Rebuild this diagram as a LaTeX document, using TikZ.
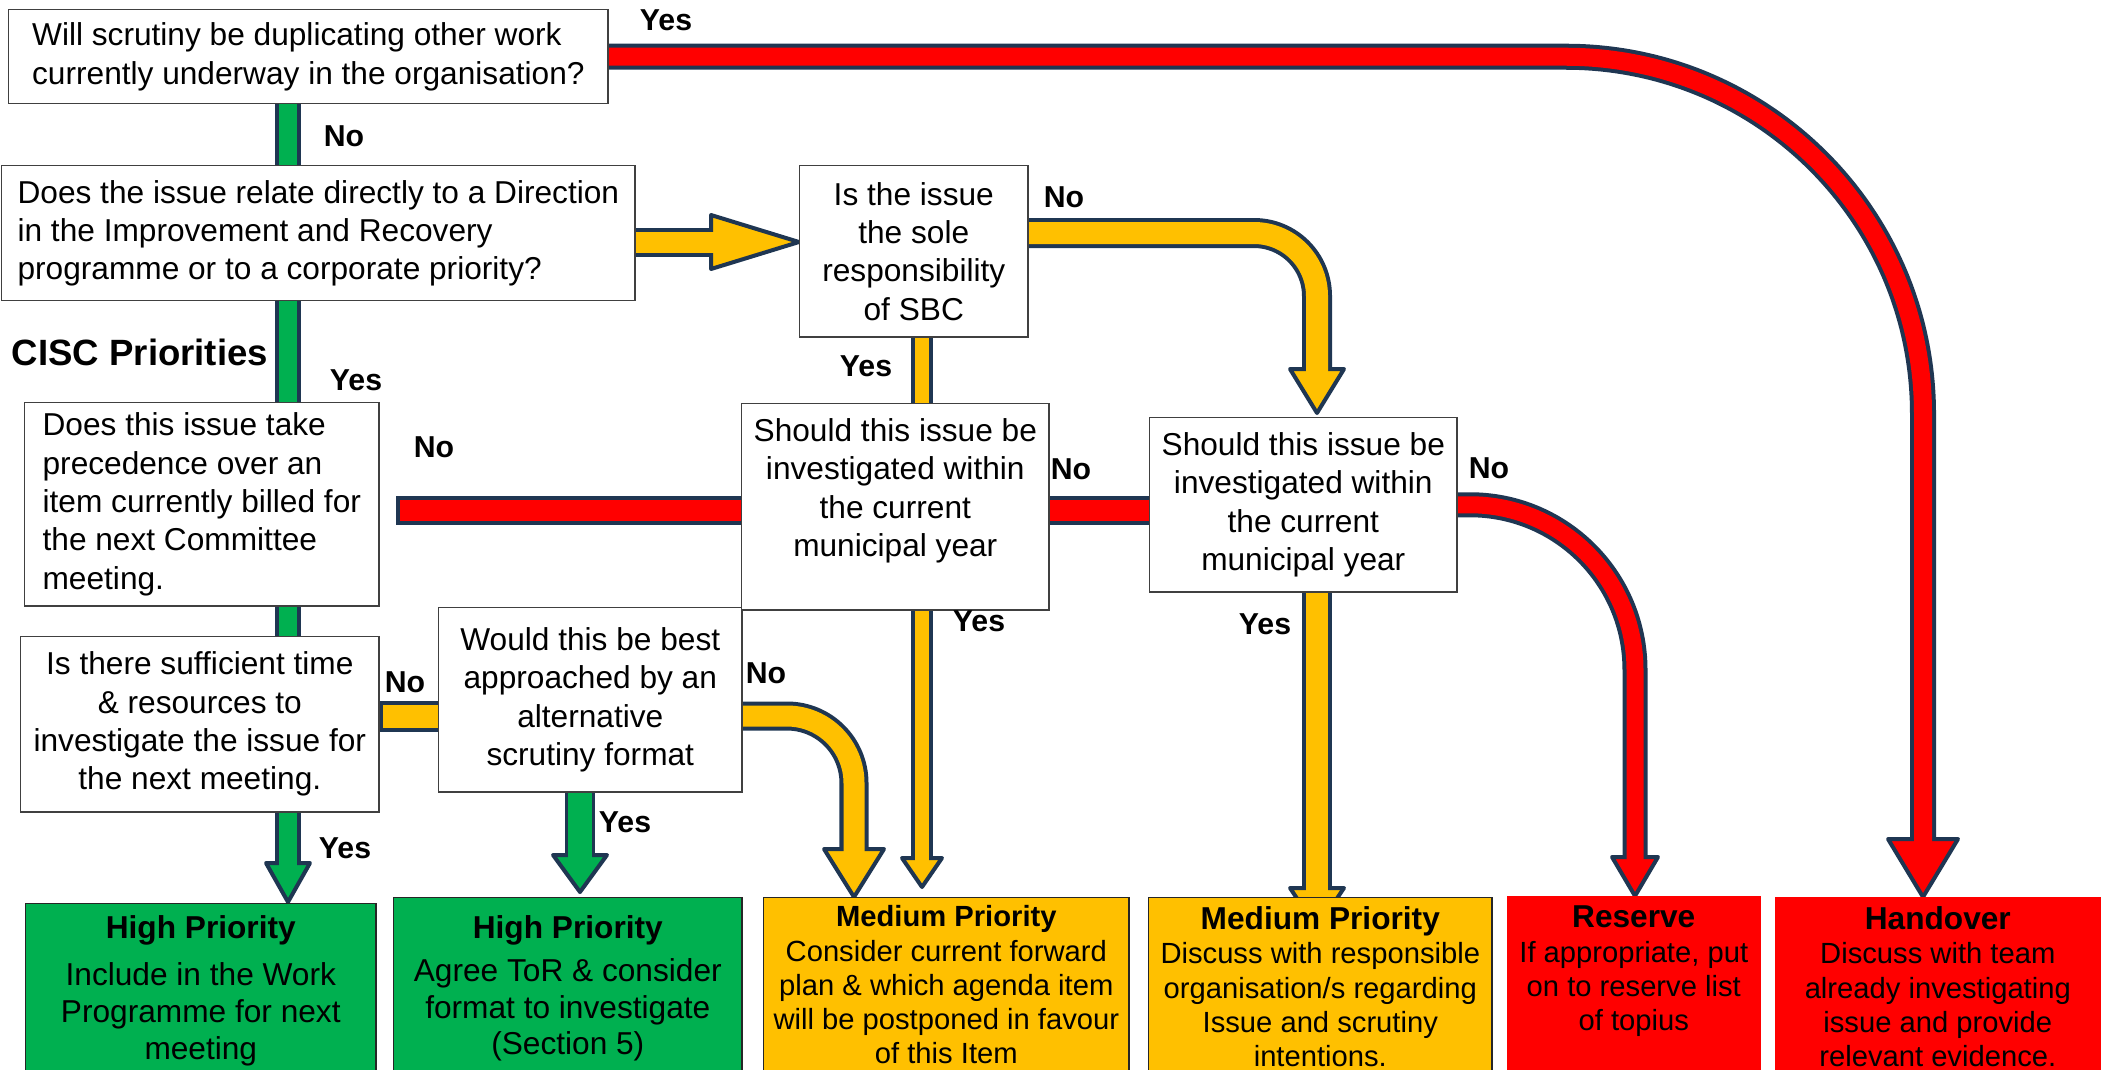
\documentclass[tikz,border=0pt]{standalone}
\usepackage{fontspec}
\setmainfont{Liberation Sans}
\usetikzlibrary{positioning,calc,backgrounds}

\definecolor{hiGreen}{RGB}{0,176,80}
\definecolor{medAmber}{RGB}{255,192,0}
\definecolor{resRed}{RGB}{255,0,0}
\definecolor{rimBlue}{RGB}{31,54,82}

\tikzset{qbox/.style={draw=black!75,fill=white,line width=0.4pt,inner sep=0pt,anchor=north west,align=center,font=\fontsize{9pt}{10.9pt}\selectfont},
pbox/.style={draw=black!85,line width=0.4pt,inner sep=0pt,anchor=north west,align=center,font=\fontsize{8.3pt}{9.7pt}\selectfont},
yn/.style={font=\fontsize{8.6pt}{10pt}\selectfont\bfseries,inner sep=0pt},
}
\newcommand{\headfont}{\fontsize{9pt}{9.7pt}\selectfont\bfseries}

% block arrow pieces
\newcommand{\headdown}[4]{%
  \filldraw[fill=#1,draw=rimBlue,line width=0.04cm,line join=round]
    (#2) ++(-#3,0) -- ++(2*#3,0) -- ++(-#3,#4) -- cycle;}
\newcommand{\headright}[4]{%
  \filldraw[fill=#1,draw=rimBlue,line width=0.04cm,line join=round]
    (#2) ++(0,-#3) -- ++(0,2*#3) -- ++(#4,-#3) -- cycle;}
\newcommand{\fatarrow}[5]{%
  \draw[rimBlue,line width=#2,shorten <=-0.04cm] #4;
  #5
  \draw[#1,line width=#3,shorten >=-0.06cm] #4;}
\newcommand{\fatbar}[4]{%
  \draw[rimBlue,line width=#2,shorten <=-0.04cm,shorten >=-0.04cm] #4;
  \draw[#1,line width=#3] #4;}

\begin{document}
\begin{tikzpicture}[x=0.01cm,y=-0.01cm]
\useasboundingbox (0,0) rectangle (2105,1069);
\clip (0,0) rectangle (2105,1069);

%% questions
\node[qbox,align=left,minimum width=5.99cm,minimum height=0.94cm] (dup) at (8,9)
  {Will scrutiny be duplicating other work\\ currently underway in the organisation?};
\node[qbox,align=left,minimum width=6.33cm,minimum height=1.35cm] (drct) at (1,165)
  {Does the issue relate directly to a Direction\\ in the Improvement and Recovery\\ programme or to a corporate priority?};
\node[qbox,minimum width=2.28cm,minimum height=1.71cm] (sbc) at (799,165)
  {Is the issue\\ the sole\\ responsibility\\ of SBC};
\node[qbox,align=left,minimum width=3.54cm,minimum height=2.03cm] (prec) at (24,402)
  {Does this issue take\\ precedence over an\\ item currently billed for\\ the next Committee\\ meeting.};
\node[qbox,minimum width=3.58cm,minimum height=1.75cm] (time) at (20,636)
  {Is there sufficient time\\ \& resources to\\ investigate the issue for\\ the next meeting.};
\node[qbox,minimum width=3.03cm,minimum height=1.84cm] (alt) at (438,607)
  {Would this be best\\ approached by an\\ alternative\\ scrutiny format};
\node[qbox,minimum width=3.07cm,minimum height=2.06cm] (yr1) at (741,403)
  {Should this issue be\\ investigated within\\ the current\\ municipal year\\ \mbox{}};
\node[qbox,minimum width=3.07cm,minimum height=1.74cm] (yr2) at (1149,417)
  {Should this issue be\\ investigated within\\ the current\\ municipal year};

%% outcomes
\node[pbox,fill=hiGreen,font=\fontsize{9pt}{10.4pt}\selectfont,minimum width=3.5cm,minimum height=1.74cm] (high1) at (25,903)
  {\textbf{High Priority}\\[3pt] Include in the Work\\ Programme for next\\ meeting};
\node[pbox,fill=hiGreen,font=\fontsize{9pt}{10.4pt}\selectfont,minimum width=3.48cm,minimum height=1.81cm] (high2) at (393,897)
  {\textbf{High Priority}\\[2pt] Agree ToR \& consider\\ format to investigate\\ (Section 5)};
\node[pbox,fill=medAmber,minimum width=3.65cm,minimum height=1.74cm] (med1) at (763,897)
  {\textbf{Medium Priority}\\ Consider current forward\\ plan \& which agenda item\\ will be postponed in favour\\ of this Item};
\node[pbox,fill=medAmber,minimum width=3.43cm,minimum height=1.78cm] (med2) at (1148,897)
  {{\headfont Medium Priority}\\ Discuss with responsible\\ organisation/s regarding\\ Issue and scrutiny\\ intentions.};
\node[pbox,fill=resRed,draw=resRed,minimum width=2.52cm,minimum height=1.77cm] (resv) at (1507,896)
  {{\headfont Reserve}\\ If appropriate, put\\ on to reserve list\\ of topius\\ \mbox{}};
\node[pbox,fill=resRed,draw=resRed,minimum width=3.24cm,minimum height=1.78cm] (hand) at (1775,897)
  {{\headfont Handover}\\ Discuss with team\\ already investigating\\ issue and provide\\ relevant evidence.};

\node[font=\fontsize{10.4pt}{12pt}\selectfont\bfseries,inner sep=0pt] (cisc) at (140,352) {CISC Priorities};

%% yes / no
\node[yn] (dupyes) at (666,20) {Yes};
\node[yn] (dupno) at (344,136) {No};
\node[yn] (drctyes) at (356,380) {Yes};
\node[yn] (sbcno) at (1064,197) {No};
\node[yn] (sbcyes) at (866,366) {Yes};
\node[yn] (precno) at (434,447) {No};
\node[yn] (yr1no) at (1071,469) {No};
\node[yn] (yr2no) at (1489,468) {No};
\node[yn] (yr1yes) at (979,621) {Yes};
\node[yn] (yr2yes) at (1265,624) {Yes};
\node[yn] (timeno) at (405,682) {No};
\node[yn] (altno) at (766,673) {No};
\node[yn] (altyes) at (625,822) {Yes};
\node[yn] (timeyes) at (345,848) {Yes};

%% block arrows
\begin{scope}[on background layer]
\coordinate (gx) at (288,0);
\coordinate (gb) at ($(gx |- high1.north)+(0,-40)$);
\fatarrow{hiGreen}{0.26cm}{0.18cm}{(gx |- dup.south) -- (gb)}{\headdown{hiGreen}{gb}{22}{39}}

\coordinate (ax) at (580,0);
\coordinate (ab) at ($(ax |- high2.north)+(0,-42)$);
\fatarrow{hiGreen}{0.30cm}{0.23cm}{(ax |- alt.south) -- (ab)}{\headdown{hiGreen}{ab}{27}{37}}

\coordinate (ry) at (0,242);
\coordinate (rb) at ($(ry -| sbc.west)+(-88,0)$);
\fatarrow{medAmber}{0.29cm}{0.21cm}{(ry -| drct.east) -- (rb)}{\headright{medAmber}{rb}{27}{88}}

\coordinate (sc) at (1317,233);
\coordinate (sb) at ($(sc |- yr2.north)+(0,-48)$);
\fatarrow{medAmber}{0.30cm}{0.22cm}{[rounded corners=0.63cm] (sc -| sbc.east) -- (sc) -- (sb)}{\headdown{medAmber}{sb}{27}{44}}

\coordinate (vx) at (922,0);
\coordinate (vb) at ($(vx |- med1.north)+(0,-39)$);
\fatarrow{medAmber}{0.22cm}{0.14cm}{(vx |- sbc.south) -- (vb)}{\headdown{medAmber}{vb}{20}{29}}

\coordinate (tn) at (383,716);
\fatbar{medAmber}{0.31cm}{0.23cm}{(tn) -- (tn -| alt.west)}

\coordinate (ac) at (854,716);
\coordinate (ad) at ($(ac |- med1.north)+(0,-48)$);
\fatarrow{medAmber}{0.29cm}{0.21cm}{[rounded corners=0.67cm] (ac -| alt.east) -- (ac) -- (ad)}{\headdown{medAmber}{ad}{30}{48}}

\coordinate (wx) at (1317,0);
\coordinate (wb) at ($(wx |- med2.north)+(0,-9)$);
\fatarrow{medAmber}{0.30cm}{0.22cm}{(wx |- yr2.south) -- (wb)}{\headdown{medAmber}{wb}{27}{40}}

\coordinate (pn) at (400,510);
\fatbar{resRed}{0.29cm}{0.21cm}{(pn) -- (pn -| yr2.west)}

\coordinate (qc) at (1635,0);
\coordinate (qb) at ($(qc |- resv.north)+(0,-39)$);
\fatarrow{resRed}{0.25cm}{0.17cm}{[rounded corners=1.65cm] (yr2.east) -- (qc |- yr2.east) -- (qb)}{\headdown{resRed}{qb}{23}{39}}

\coordinate (hc) at (1923,0);
\coordinate (hb) at ($(hc |- hand.north)+(0,-58)$);
\fatarrow{resRed}{0.26cm}{0.18cm}{[rounded corners=3.57cm] (dup.east) -- (hc |- dup.east) -- (hb)}{\headdown{resRed}{hb}{35}{58}}
\end{scope}
\end{tikzpicture}
\end{document}
